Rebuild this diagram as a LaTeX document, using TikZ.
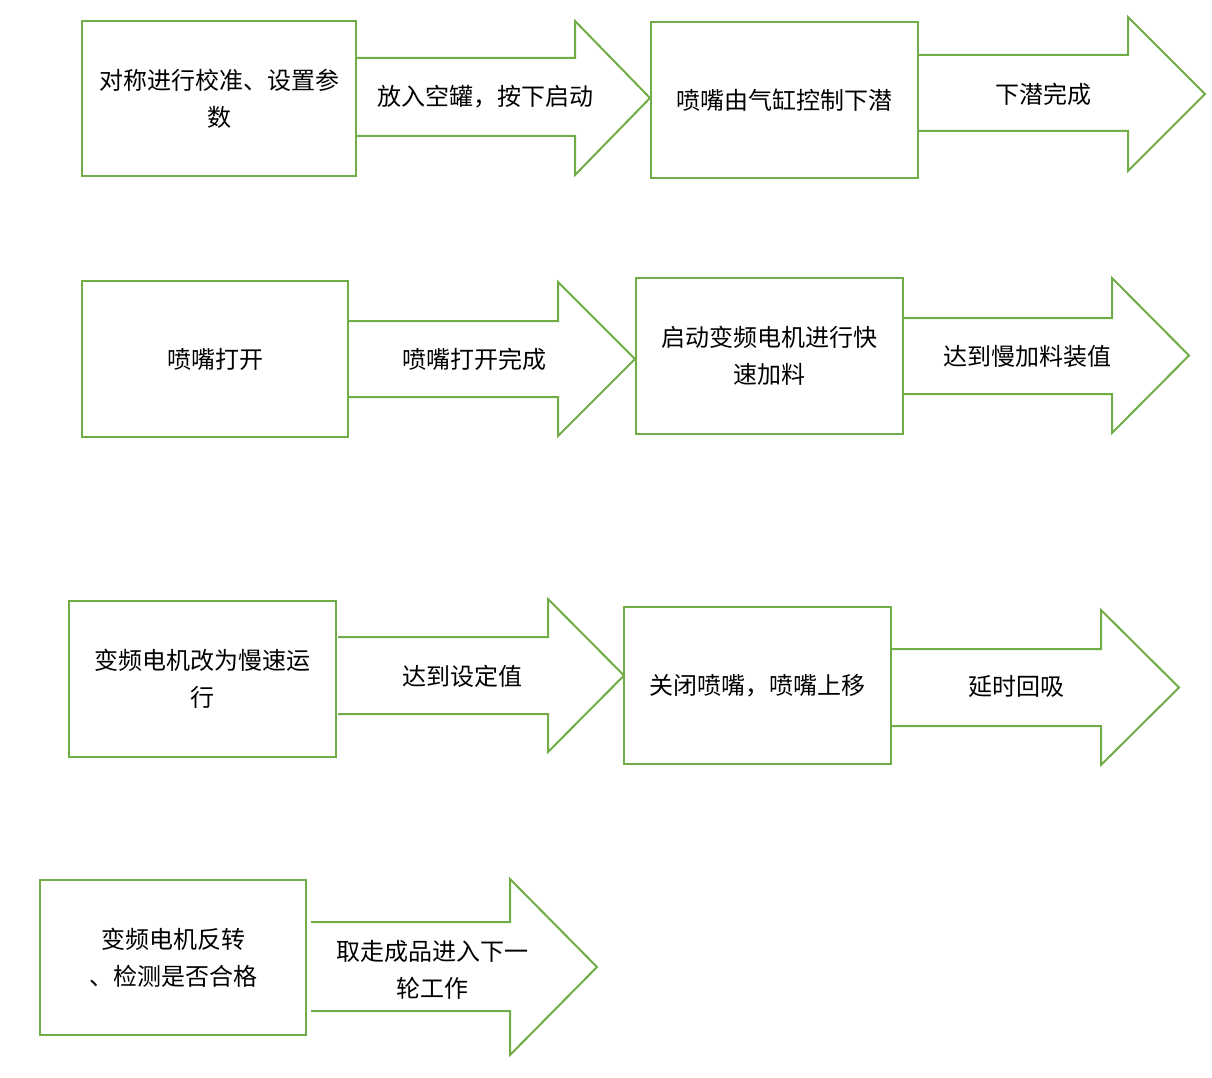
\documentclass[tikz,border=0pt]{standalone}
\usepackage{fontspec}
\setmainfont{Noto Sans CJK SC}
\definecolor{gr}{HTML}{70AD47}
\newcommand\myarrow[7]{%
  % #1 shaft left, #2 head start, #3 tip x, #4 shaft top, #5 shaft bottom, #6 head top, #7 head bottom
  \draw[arr] (#1,#4) -- (#2,#4) -- (#2,#6) -- (#3,{(#6+#7)/2}) -- (#2,#7) -- (#2,#5) -- (#1,#5);
}
\begin{document}
\begin{tikzpicture}[x=0.75pt,y=-0.75pt,
  box/.style={draw=gr,line width=1.5pt,inner sep=0pt,align=center,font=\fontsize{18}{27.75}\selectfont},
  arr/.style={draw=gr,line width=1.5pt,line join=miter},
  lbl/.style={align=center,inner sep=0pt,font=\fontsize{18}{27.75}\selectfont}]
\useasboundingbox (0,0) rectangle (1212,1077);
% Row 1
\node[box,minimum width=274*0.75pt,minimum height=155*0.75pt] (b1) at (219,98.5) {对称进行校准、设置参\\数};
\myarrow{356}{575}{650}{58}{136}{21}{175}
\node[lbl] (a1) at (485,97) {放入空罐，按下启动};
\node[box,minimum width=267*0.75pt,minimum height=156*0.75pt] (b2) at (784.5,100) {喷嘴由气缸控制下潜};
\myarrow{918}{1128}{1205}{55}{131}{17}{171}
\node[lbl] (a2) at (1043,94) {下潜完成};
% Row 2
\node[box,minimum width=266*0.75pt,minimum height=156*0.75pt] (b3) at (215,359) {喷嘴打开};
\myarrow{349}{558}{635}{321}{397}{282}{436}
\node[lbl] (a3) at (474,359) {喷嘴打开完成};
\node[box,minimum width=267*0.75pt,minimum height=156*0.75pt] (b4) at (769.5,356) {启动变频电机进行快\\速加料};
\myarrow{903}{1112}{1189}{318}{394}{278}{433}
\node[lbl] (a4) at (1027,356) {达到慢加料装值};
% Row 3
\node[box,minimum width=267*0.75pt,minimum height=156*0.75pt] (b5) at (202.5,679) {变频电机改为慢速运\\行};
\myarrow{338}{548}{624}{637}{714}{599}{752}
\node[lbl] (a5) at (462,676) {达到设定值};
\node[box,minimum width=267*0.75pt,minimum height=157*0.75pt] (b6) at (757.5,685.5) {关闭喷嘴，喷嘴上移};
\myarrow{891}{1101}{1179}{649}{726}{610}{765}
\node[lbl] (a6) at (1016,687) {延时回吸};
% Row 4
\node[box,minimum width=266*0.75pt,minimum height=155*0.75pt] (b7) at (173,957.5) {变频电机反转\\、检测是否合格};
\myarrow{311}{510}{597}{922}{1011}{879}{1055}
\node[lbl] (a7) at (432,969.5) {取走成品进入下一\\轮工作};
\end{tikzpicture}
\end{document}
